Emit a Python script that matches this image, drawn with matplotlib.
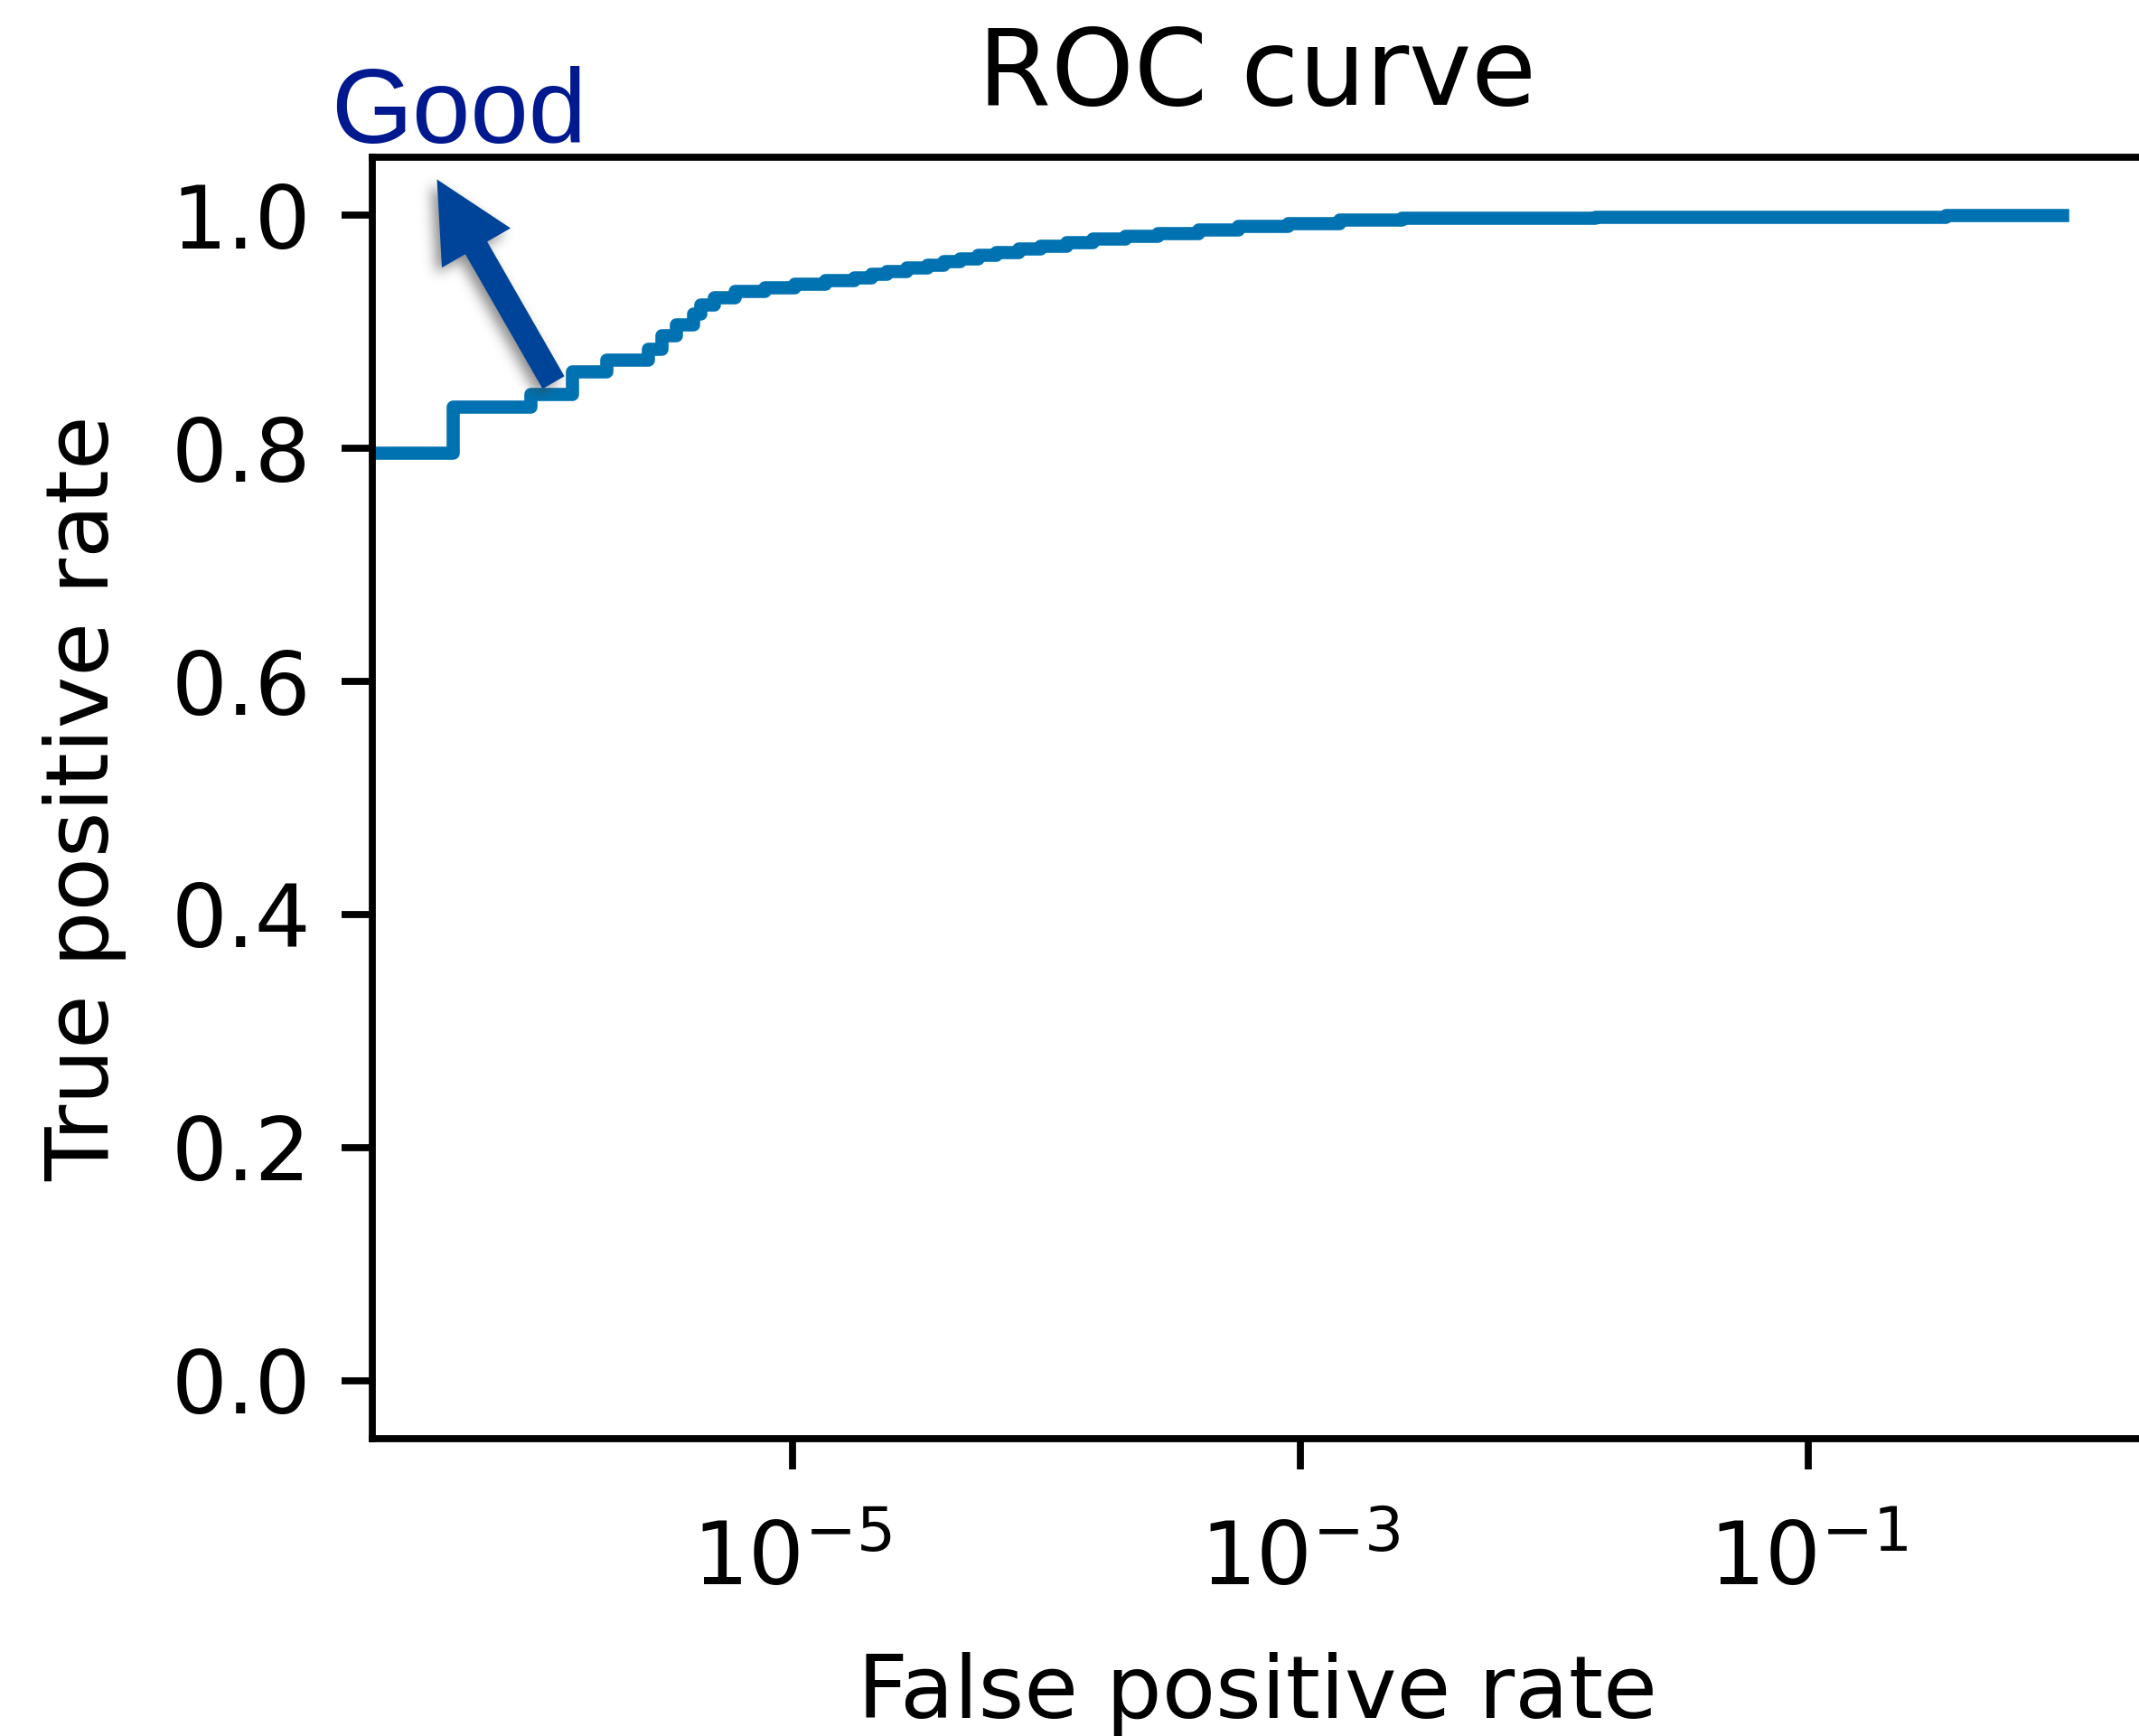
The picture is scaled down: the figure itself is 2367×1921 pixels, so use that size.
import numpy as np
import matplotlib
matplotlib.use("Agg")
import matplotlib.pyplot as plt
from matplotlib.patches import FancyArrow
from matplotlib.path import Path
from matplotlib.transforms import Affine2D
from matplotlib.ticker import NullLocator

# ROC operating points: false positive rate at each threshold and the
# true positive rate reached there (curve drawn as a staircase)
fpr = [0.0, 0.0, 4.61e-07, 9.31e-07, 1.36e-06, 1.86e-06, 2.71e-06, 3.07e-06,
       3.48e-06, 4.07e-06, 4.34e-06, 4.92e-06, 5.94e-06, 7.76e-06, 1.02e-05,
       1.35e-05, 1.75e-05, 2.04e-05, 2.36e-05, 2.82e-05, 3.40e-05, 3.94e-05,
       4.55e-05, 5.37e-05, 6.32e-05, 7.76e-05, 9.46e-05, 1.20e-04, 1.52e-04,
       2.04e-04, 2.74e-04, 3.98e-04, 5.70e-04, 8.91e-04, 1.42e-03, 2.51e-03,
       0.0145, 0.347, 1.0]
tpr = [0.0, 0.7966, 0.8357, 0.8468, 0.8663, 0.8766, 0.8857, 0.8974, 0.9064,
       0.9155, 0.9233, 0.9298, 0.9355, 0.9385, 0.9414, 0.9443, 0.9471, 0.9498,
       0.9526, 0.9553, 0.9580, 0.9607, 0.9635, 0.9662, 0.9689, 0.9716, 0.9743,
       0.9770, 0.9798, 0.9825, 0.9852, 0.9880, 0.9907, 0.9934, 0.9961, 0.9978,
       0.9985, 1.0, 1.0]
x_ticks = [1e-5, 1e-3, 1e-1]

title = "ROC curve"
x_label = "False positive rate"
y_label = "True positive rate"
note = "Good"

DPI = 700.0
W, H = 2367, 1921
fig = plt.figure(figsize=(W / DPI, H / DPI), dpi=DPI)
fig.patch.set_facecolor("white")

# pixel transform with the origin at the top-left corner of the figure
px = Affine2D().scale(1 / DPI, -1 / DPI).translate(0, H / DPI) + fig.dpi_scale_trans

left, right, top, bottom = 412, 2371, 174, 1592
ax = fig.add_axes([left / W, (H - bottom) / H, (right - left) / W, (bottom - top) / H])
ax.plot(fpr, tpr, drawstyle="steps-post", color="#0072B2", lw=1.5)
ax.set_xscale("log")
ax.set_xticks(x_ticks)
ax.xaxis.set_minor_locator(NullLocator())
ax.tick_params(axis="x", pad=5.7)
ax.set_title(title)
ax.set_xlabel(x_label, labelpad=5.5)
ax.set_ylabel(y_label, labelpad=5)

# "better" direction marker: block arrow with a soft drop shadow
tail = (612.5, 423.3)
tip = (483.5, 198.5)
arrow = FancyArrow(tail[0], tail[1], tip[0] - tail[0], tip[1] - tail[1],
                   width=27.9, head_width=87.6, head_length=87.4,
                   length_includes_head=True, facecolor="#00449A",
                   edgecolor="none", transform=px, zorder=3)

x0, y0, w, h = 430, 150, 260, 340
gx, gy = np.meshgrid(np.arange(w) + x0 + 0.5, np.arange(h) + y0 + 0.5)
shift = (-6.0, 6.0)
pts = np.column_stack([(gx - shift[0]).ravel(), (gy - shift[1]).ravel()])
mask = Path(arrow.get_xy()).contains_points(pts).reshape(h, w).astype(float)


def blur(a, s):
    r = int(3 * s)
    k = np.exp(-0.5 * (np.arange(-r, r + 1) / s) ** 2)
    k /= k.sum()
    a = np.apply_along_axis(lambda m: np.convolve(m, k, mode="same"), 0, a)
    return np.apply_along_axis(lambda m: np.convolve(m, k, mode="same"), 1, a)


soft = blur(mask, 7.0)
shadow = np.zeros((h, w, 4))
shadow[..., :3] = 0.25
shadow[..., 3] = 0.6 * soft
fig.figimage(shadow, xo=x0, yo=H - y0 - h, origin="upper", zorder=2)
fig.add_artist(arrow)

fig.text(366, 158, note, transform=px, fontsize=11.9, color="#00198F",
         family="Liberation Sans", ha="left", va="baseline", zorder=4)

fig.savefig("out.png", dpi=DPI, facecolor="white")
